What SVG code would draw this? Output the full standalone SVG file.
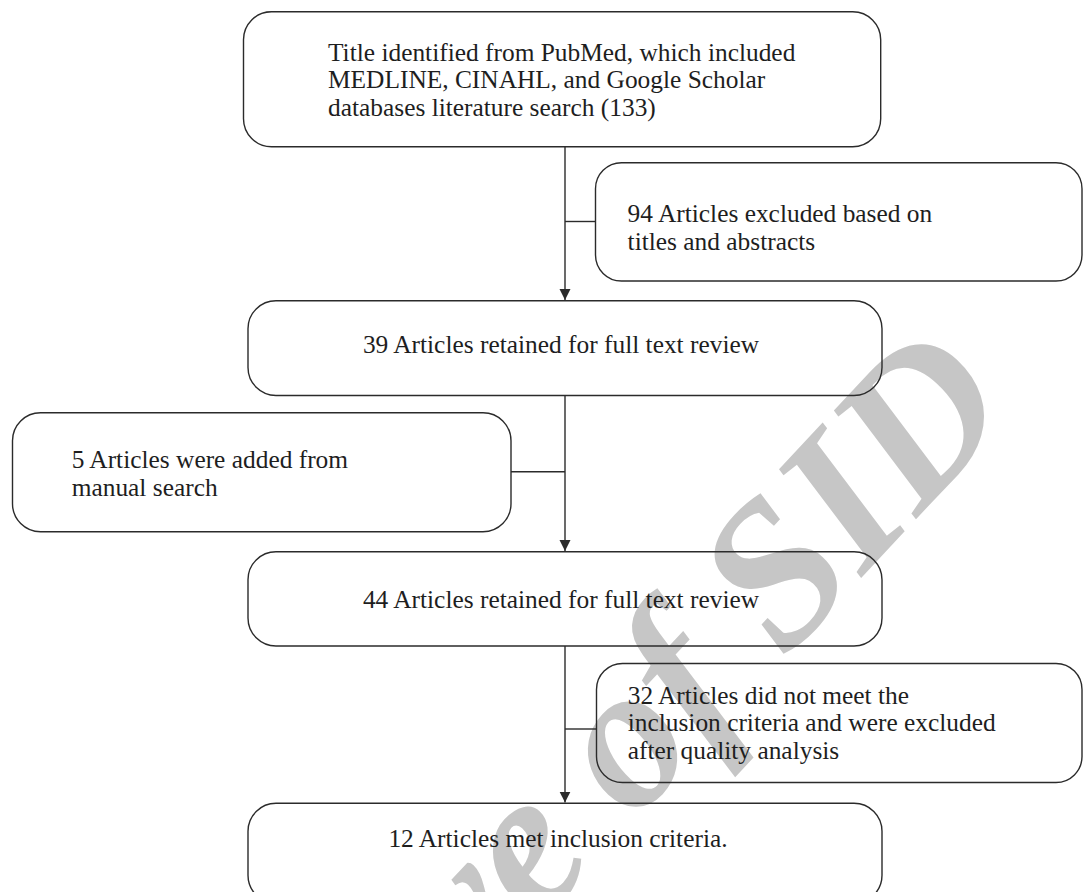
<svg xmlns="http://www.w3.org/2000/svg" width="1083" height="892" viewBox="0 0 1083 892">
<style>
.box{fill:none;stroke:#2b2b2b;stroke-width:1.4}
.ln{fill:none;stroke:#2b2b2b;stroke-width:1.4}
.t{font-family:"Liberation Serif","Times New Roman",serif;font-size:25.4px;fill:#1e1e1e}
.c{text-anchor:middle}
.wm{font-family:"Liberation Serif","Times New Roman",serif;font-size:205px;font-style:italic;font-weight:bold;fill:#c6c6c6;text-anchor:end}
</style>
<defs>
<marker id="arr" viewBox="0 0 11 12" refX="11" refY="6" markerWidth="11" markerHeight="12" markerUnits="userSpaceOnUse" orient="auto">
<path d="M0,0.5 L11,6 L0,11.5 Z" fill="#2b2b2b"/>
</marker>
</defs>
<rect width="1083" height="892" fill="#ffffff"/>
<g id="watermark">
<text class="wm" transform="translate(1018,410) rotate(-47)">Archive of SID</text>
</g>
<g id="connectors">
<path class="ln" d="M565,146.7 V300" marker-end="url(#arr)"/>
<path class="ln" d="M565,221.5 H595.5"/>
<path class="ln" d="M565,395.5 V551" marker-end="url(#arr)"/>
<path class="ln" d="M511,471.7 H565"/>
<path class="ln" d="M565,646 V802.6" marker-end="url(#arr)"/>
<path class="ln" d="M565,729 H596.5"/>
</g>
<g id="n1">
<rect class="box" x="243.5" y="11.7" width="637.2" height="135" rx="28" ry="28"/>
<text class="t" x="328" y="60.5">Title identified from PubMed, which included</text>
<text class="t" x="328" y="88.3">MEDLINE, CINAHL, and Google Scholar</text>
<text class="t" x="328" y="116">databases literature search (133)</text>
</g>
<g id="n2">
<rect class="box" x="595.5" y="162.7" width="486.5" height="118.3" rx="26" ry="26"/>
<text class="t" x="627.6" y="221.7">94 Articles excluded based on</text>
<text class="t" x="627.6" y="250">titles and abstracts</text>
</g>
<g id="n3">
<rect class="box" x="248" y="300.7" width="634" height="94.8" rx="28" ry="28"/>
<text class="t c" x="561" y="353.3">39 Articles retained for full text review</text>
</g>
<g id="n4">
<rect class="box" x="12.5" y="412.7" width="498.5" height="119" rx="28" ry="28"/>
<text class="t" x="71.7" y="468">5 Articles were added from</text>
<text class="t" x="71.7" y="496">manual search</text>
</g>
<g id="n5">
<rect class="box" x="248" y="551.7" width="634" height="94.3" rx="28" ry="28"/>
<text class="t c" x="561" y="608.3">44 Articles retained for full text review</text>
</g>
<g id="n6">
<rect class="box" x="596.5" y="663.5" width="485.5" height="119" rx="26" ry="26"/>
<text class="t" x="627.7" y="703.5">32 Articles did not meet the</text>
<text class="t" x="627.7" y="731">inclusion criteria and were excluded</text>
<text class="t" x="627.7" y="758.5">after quality analysis</text>
</g>
<g id="n7">
<rect class="box" x="248" y="803.3" width="634" height="100" rx="28" ry="28"/>
<text class="t c" x="558" y="846.7">12 Articles met inclusion criteria.</text>
</g>
</svg>
